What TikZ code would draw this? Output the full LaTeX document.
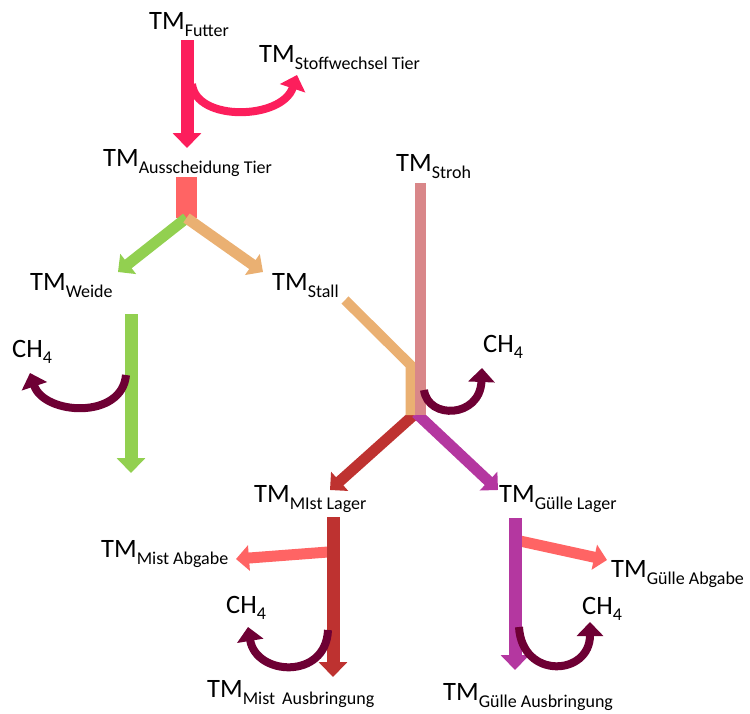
\documentclass[tikz,border=0pt]{standalone}
\usepackage{fontspec}
\setmainfont{Carlito}
\usetikzlibrary{arrows.meta}

\definecolor{futterpink}{RGB}{252,30,92}
\definecolor{kotrot}{RGB}{255,100,100}
\definecolor{weidegruen}{RGB}{146,208,80}
\definecolor{stallorange}{RGB}{234,176,114}
\definecolor{strohrosa}{RGB}{217,135,137}
\definecolor{mistrot}{RGB}{190,50,48}
\definecolor{guellelila}{RGB}{180,55,160}
\definecolor{methan}{RGB}{110,0,52}

\newcommand{\tmsub}[1]{TM\raisebox{-7pt}{\fontsize{18}{18}\selectfont #1}}
\newcommand{\chvier}{CH\raisebox{-6pt}{\fontsize{18}{18}\selectfont 4}}

\begin{document}
\begin{tikzpicture}[
    x=1pt, y=-1pt,
    tmtext/.style={anchor=base west, inner sep=0pt, font=\fontsize{26.5}{30}\selectfont},
    stream/.style={draw=#1, line width=13pt, -{Triangle[width=28pt,length=15pt]}},
    branch/.style={draw=#1, line width=11pt, -{Triangle[width=25pt,length=13pt]}},
    emission/.style={draw=#1, line width=8pt, -{Triangle[width=26pt,length=14pt]}},
    emission/.default=methan
]
\useasboundingbox (0,0) rectangle (750,713);

% Labels
\node[tmtext] (futter) at (149,29) {\tmsub{Futter}};
\node[tmtext] (stoff) at (259,62) {\tmsub{Stoffwechsel Tier}};
\node[tmtext] (aussch) at (103,166) {\tmsub{Ausscheidung Tier}};
\node[tmtext] (stroh) at (396,171) {\tmsub{Stroh}};
\node[tmtext] (weide) at (30,290) {\tmsub{Weide}};
\node[tmtext] (stall) at (272,290) {\tmsub{Stall}};
\node[tmtext] (chweide) at (12,357) {\chvier};
\node[tmtext] (chstall) at (483,352) {\chvier};
\node[tmtext] (mistlager) at (254,502) {\tmsub{MIst Lager}};
\node[tmtext] (guellelager) at (499,502) {\tmsub{Gülle Lager}};
\node[tmtext] (mistabgabe) at (101,557) {\tmsub{Mist Abgabe}};
\node[tmtext] (guelleabgabe) at (611,577) {\tmsub{Gülle Abgabe}};
\node[tmtext] (chmist) at (226,613) {\chvier};
\node[tmtext] (chguelle) at (582,614) {\chvier};
\node[tmtext] (mistaus) at (207,697) {\tmsub{Mist\, Ausbringung}};
\node[tmtext] (guelleaus) at (443,700) {\tmsub{Gülle Ausbringung}};

% End points of the flows
\coordinate (futterA) at (187,40);
\coordinate (futterB) at (187,148);
\coordinate (stoffA) at (192,84);
\coordinate (stoffB) at (297,75);
\coordinate (ausschB) at (186.5,218);
\coordinate (weideTip) at (118,272);
\coordinate (stallTip) at (263,272);
\coordinate (weideA) at (131,314);
\coordinate (weideB) at (131,473);
\coordinate (weideCH) at (126,375);
\coordinate (weideCHtip) at (30,373);
\coordinate (stallA) at (345,300);
\coordinate (stallK) at (410.5,365);
\coordinate (stallB) at (410.5,415);
\coordinate (strohA) at (420.5,183);
\coordinate (strohB) at (420.5,415);
\coordinate (knot) at (416,413);
\coordinate (stallCH) at (424,390);
\coordinate (stallCHtip) at (482,368);
\coordinate (mistTip) at (330,490);
\coordinate (guelleTip) at (498,490);
\coordinate (mistA) at (333,517);
\coordinate (mistB) at (333,677);
\coordinate (mistAbA) at (328,552);
\coordinate (mistAbB) at (236,559);
\coordinate (mistCH) at (328,630);
\coordinate (mistCHtip) at (248,627);
\coordinate (guelleA) at (515,518);
\coordinate (guelleB) at (515,670);
\coordinate (guelleAbA) at (520,541);
\coordinate (guelleAbB) at (607,560);
\coordinate (guelleCH) at (519,627);
\coordinate (guelleCHtip) at (590,622);

% Futter
\draw[stream=futterpink] (futterA) -- (futterB);
\draw[emission=futterpink] (stoffA) .. controls (196,122) and (282,120) .. (stoffB);

% Ausscheidung
\fill[kotrot] (176,177) rectangle (197,218);
\draw[branch=weidegruen] (ausschB) -- (weideTip);
\draw[branch=stallorange] (ausschB) -- (stallTip);

% Weide
\draw[stream=weidegruen] (weideA) -- (weideB);
\draw[emission] (weideCH) .. controls (122,420) and (44,415) .. (weideCHtip);

% Stall und Stroh
\draw[branch=mistrot] (knot) -- (mistTip);
\draw[branch=guellelila] (knot) -- (guelleTip);
\draw[stallorange, line width=10pt] (stallA) -- (stallK) -- (stallB);
\draw[strohrosa, line width=11pt] (strohA) -- (strohB);
\draw[emission] (stallCH) .. controls (428,420) and (480,418) .. (stallCHtip);

% Mist
\draw[branch=kotrot] (mistAbA) -- (mistAbB);
\draw[stream=mistrot] (mistA) -- (mistB);
\draw[emission] (mistCH) .. controls (326,680) and (256,676) .. (mistCHtip);

% Guelle
\draw[branch=kotrot] (guelleAbA) -- (guelleAbB);
\draw[stream=guellelila] (guelleA) -- (guelleB);
\draw[emission] (guelleCH) .. controls (522,680) and (590,676) .. (guelleCHtip);

\end{tikzpicture}
\end{document}
